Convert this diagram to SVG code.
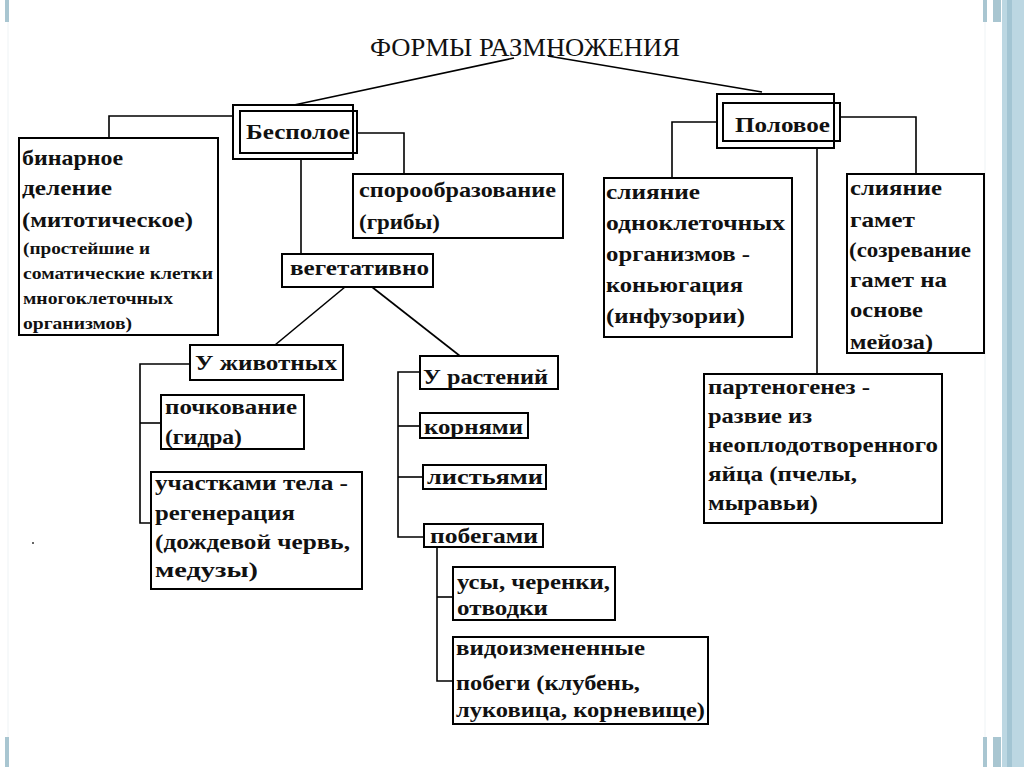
<svg xmlns="http://www.w3.org/2000/svg" width="1024" height="767" viewBox="0 0 1024 767">
<style>
.box{fill:#fff;stroke:#000;stroke-width:2}
.ln{fill:none;stroke:#000;stroke-width:1.6}
text{font-family:"Liberation Serif","Times New Roman","DejaVu Serif",serif;fill:#111}
.t{font-weight:bold;font-size:21px}
.s{font-weight:bold;font-size:16px}
.h{font-weight:bold;font-size:22px}
.ti{font-size:26px}
.dec{fill:#a9c6d1}
</style>
<rect x="0" y="0" width="1024" height="767" fill="#fff"/>
<g id="decor">
<line x1="8" y1="22" x2="8" y2="737" stroke="#eef3f5" stroke-width="1"/>
<line x1="985" y1="22" x2="985" y2="737" stroke="#eef3f5" stroke-width="1"/>
<rect x="1002" y="0" width="22" height="767" fill="#bcd7e2"/>
<rect x="1007" y="0" width="5" height="767" fill="#a3c5d3"/>
<rect class="dec" x="5" y="0" width="4" height="22"/>
<rect class="dec" x="5" y="737" width="4" height="30"/>
<rect class="dec" x="983" y="0" width="4" height="22"/>
<rect class="dec" x="993" y="0" width="8" height="22"/>
<rect class="dec" x="983" y="737" width="4" height="30"/>
<rect class="dec" x="993" y="737" width="8" height="30"/>
<circle cx="33" cy="543" r="1" fill="#333"/>
</g>
<g id="connectors">
<line class="ln" x1="514" y1="58" x2="294" y2="105"/>
<line class="ln" x1="548" y1="56" x2="762" y2="92"/>
<polyline class="ln" points="233,116 109,116 109,138"/>
<polyline class="ln" points="357,133 404,133 404,174"/>
<line class="ln" x1="301" y1="159" x2="301" y2="254"/>
<line class="ln" x1="345" y1="287" x2="275" y2="345"/>
<line class="ln" x1="372" y1="287" x2="460" y2="356"/>
<polyline class="ln" points="190,364 140,364 140,523 151,523"/>
<line class="ln" x1="140" y1="423" x2="161" y2="423"/>
<polyline class="ln" points="420,372 398,372 398,537 424,537"/>
<line class="ln" x1="398" y1="426" x2="420" y2="426"/>
<line class="ln" x1="398" y1="477" x2="423" y2="477"/>
<polyline class="ln" points="437,547 437,681 453,681"/>
<line class="ln" x1="437" y1="597" x2="453" y2="597"/>
<polyline class="ln" points="717,122 672,122 672,178"/>
<polyline class="ln" points="840,117 916,117 916,174"/>
<line class="ln" x1="817" y1="148" x2="817" y2="374"/>
</g>
<g id="title">
<text class="ti" x="370" y="56" textLength="310" lengthAdjust="spacingAndGlyphs">ФОРМЫ РАЗМНОЖЕНИЯ</text>
</g>
<g id="bespoloe">
<rect class="box" x="233" y="105" width="120" height="54"/>
<rect class="box" x="240" y="111" width="117" height="42" style="fill:none"/>
<text class="h" x="246" y="139" textLength="104" lengthAdjust="spacingAndGlyphs">Бесполое</text>
</g>
<g id="polovoe">
<rect class="box" x="717" y="94" width="117" height="54"/>
<rect class="box" x="723" y="103" width="117" height="38" style="fill:none"/>
<text class="h" x="735" y="132" textLength="95" lengthAdjust="spacingAndGlyphs">Половое</text>
</g>
<g id="binarnoe">
<rect class="box" x="19" y="138" width="199" height="197"/>
<text class="t" x="22" y="165" textLength="101" lengthAdjust="spacingAndGlyphs">бинарное</text>
<text class="t" x="22" y="195" textLength="90" lengthAdjust="spacingAndGlyphs">деление</text>
<text class="t" x="22" y="227" textLength="171" lengthAdjust="spacingAndGlyphs">(митотическое)</text>
<text class="s" x="23" y="254" textLength="127" lengthAdjust="spacingAndGlyphs">(простейшие и</text>
<text class="s" x="23" y="279" textLength="190" lengthAdjust="spacingAndGlyphs">соматические клетки</text>
<text class="s" x="23" y="304" textLength="150" lengthAdjust="spacingAndGlyphs">многоклеточных</text>
<text class="s" x="23" y="329" textLength="109" lengthAdjust="spacingAndGlyphs">организмов)</text>
</g>
<g id="sporo">
<rect class="box" x="353" y="174" width="210" height="64"/>
<text class="t" x="359" y="197" textLength="197" lengthAdjust="spacingAndGlyphs">спорообразование</text>
<text class="t" x="359" y="229" textLength="81" lengthAdjust="spacingAndGlyphs">(грибы)</text>
</g>
<g id="veget">
<rect class="box" x="282" y="254" width="151" height="33"/>
<text class="t" x="290" y="275" textLength="139" lengthAdjust="spacingAndGlyphs">вегетативно</text>
</g>
<g id="animals">
<rect class="box" x="190" y="345" width="153" height="35"/>
<text class="h" x="195" y="370" textLength="142" lengthAdjust="spacingAndGlyphs">У животных</text>
</g>
<g id="pochkovanie">
<rect class="box" x="161" y="395" width="143" height="54"/>
<text class="t" x="165" y="414" textLength="132" lengthAdjust="spacingAndGlyphs">почкование</text>
<text class="t" x="165" y="444" textLength="77" lengthAdjust="spacingAndGlyphs">(гидра)</text>
</g>
<g id="uchastki">
<rect class="box" x="151" y="472" width="211" height="117"/>
<text class="t" x="155" y="490" textLength="193" lengthAdjust="spacingAndGlyphs">участками тела -</text>
<text class="t" x="155" y="520" textLength="140" lengthAdjust="spacingAndGlyphs">регенерация</text>
<text class="t" x="155" y="549" textLength="195" lengthAdjust="spacingAndGlyphs">(дождевой червь,</text>
<text class="t" x="155" y="577" textLength="103" lengthAdjust="spacingAndGlyphs">медузы)</text>
</g>
<g id="plants">
<rect class="box" x="420" y="356" width="138" height="33"/>
<text class="h" x="423" y="384" textLength="125" lengthAdjust="spacingAndGlyphs">У растений</text>
</g>
<g id="kornyami">
<rect class="box" x="420" y="413" width="108" height="25"/>
<text class="t" x="424" y="434" textLength="99" lengthAdjust="spacingAndGlyphs">корнями</text>
</g>
<g id="listyami">
<rect class="box" x="423" y="465" width="123" height="24"/>
<text class="t" x="427" y="484" textLength="116" lengthAdjust="spacingAndGlyphs">листьями</text>
</g>
<g id="pobegami">
<rect class="box" x="424" y="524" width="119" height="23"/>
<text class="t" x="430" y="543" textLength="108" lengthAdjust="spacingAndGlyphs">побегами</text>
</g>
<g id="usy">
<rect class="box" x="453" y="567" width="162" height="53"/>
<text class="t" x="457" y="589" textLength="153" lengthAdjust="spacingAndGlyphs">усы, черенки,</text>
<text class="t" x="457" y="615" textLength="91" lengthAdjust="spacingAndGlyphs">отводки</text>
</g>
<g id="vidoizm">
<rect class="box" x="453" y="637" width="255" height="87"/>
<text class="t" x="456" y="655" textLength="189" lengthAdjust="spacingAndGlyphs">видоизмененные</text>
<text class="t" x="456" y="690" textLength="184" lengthAdjust="spacingAndGlyphs">побеги (клубень,</text>
<text class="t" x="456" y="717" textLength="249" lengthAdjust="spacingAndGlyphs">луковица, корневище)</text>
</g>
<g id="sliyanie1">
<rect class="box" x="604" y="178" width="188" height="159"/>
<text class="t" x="606" y="199" textLength="94" lengthAdjust="spacingAndGlyphs">слияние</text>
<text class="t" x="606" y="230" textLength="179" lengthAdjust="spacingAndGlyphs">одноклеточных</text>
<text class="t" x="606" y="261" textLength="144" lengthAdjust="spacingAndGlyphs">организмов -</text>
<text class="t" x="606" y="292" textLength="137" lengthAdjust="spacingAndGlyphs">коньюгация</text>
<text class="t" x="606" y="323" textLength="139" lengthAdjust="spacingAndGlyphs">(инфузории)</text>
</g>
<g id="sliyanie2">
<rect class="box" x="847" y="174" width="137" height="179"/>
<text class="t" x="850" y="195" textLength="92" lengthAdjust="spacingAndGlyphs">слияние</text>
<text class="t" x="850" y="227" textLength="65" lengthAdjust="spacingAndGlyphs">гамет</text>
<text class="t" x="849" y="257" textLength="122" lengthAdjust="spacingAndGlyphs">(созревание</text>
<text class="t" x="850" y="287" textLength="97" lengthAdjust="spacingAndGlyphs">гамет на</text>
<text class="t" x="850" y="317" textLength="73" lengthAdjust="spacingAndGlyphs">основе</text>
<text class="t" x="850" y="349" textLength="83" lengthAdjust="spacingAndGlyphs">мейоза)</text>
</g>
<g id="partenogenez">
<rect class="box" x="704" y="374" width="238" height="149"/>
<text class="t" x="708" y="394" textLength="162" lengthAdjust="spacingAndGlyphs">партеногенез -</text>
<text class="t" x="708" y="423" textLength="104" lengthAdjust="spacingAndGlyphs">развие из</text>
<text class="t" x="708" y="452" textLength="230" lengthAdjust="spacingAndGlyphs">неоплодотворенного</text>
<text class="t" x="708" y="481" textLength="149" lengthAdjust="spacingAndGlyphs">яйца (пчелы,</text>
<text class="t" x="708" y="510" textLength="110" lengthAdjust="spacingAndGlyphs">мыравьи)</text>
</g>
</svg>
